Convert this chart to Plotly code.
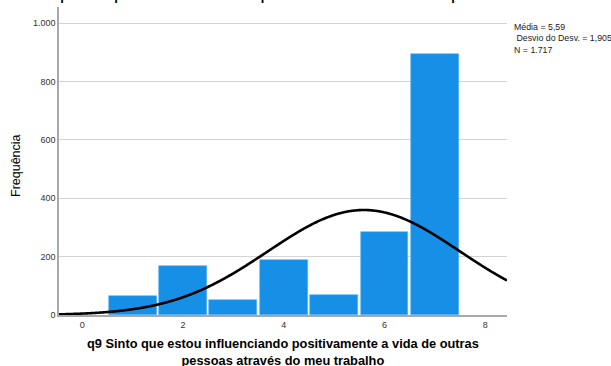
import numpy as np
import plotly.graph_objects as go

# Frequency of each answer (scale 1..7)
categories = [1, 2, 3, 4, 5, 6, 7]
frequencies = [66, 167, 50, 187, 70, 283, 894]

# Summary statistics shown in the side box
mean_val = 5.59
sd_val = 1.905
n_total = 1717

x_ticks = [0, 2, 4, 6, 8]
y_ticks = [0, 200, 400, 600, 800, 1000]
y_tick_text = ["0", "200", "400", "600", "800", "1.000"]

x_range = [-0.46, 8.43]
y_range = [0, 1055]

title_text = "q9 Sinto que estou influenciando positivamente a vida de outras pessoas através do meu trabalho"
x_title = "q9 Sinto que estou influenciando positivamente a vida de outras<br>pessoas através do meu trabalho"
y_title = "Frequência"
stats_text = "Média = 5,59<br> Desvio do Desv. = 1,905<br>N = 1.717"

FONT = "Liberation Sans, Arial, sans-serif"

fig = go.Figure()

fig.add_trace(go.Bar(
    x=categories,
    y=frequencies,
    width=0.95,
    marker=dict(color="#1690e6", line=dict(color="#5db0ef", width=0.6)),
    showlegend=False,
))

# Normal curve scaled to counts (bin width 1)
xc = np.linspace(x_range[0], x_range[1], 400)
yc = n_total * 1.0 / (sd_val * np.sqrt(2 * np.pi)) * np.exp(-0.5 * ((xc - mean_val) / sd_val) ** 2)
fig.add_trace(go.Scatter(
    x=xc, y=yc, mode="lines",
    line=dict(color="black", width=2.6, shape="spline"),
    showlegend=False,
))

fig.update_layout(
    width=611, height=366,
    margin=dict(l=59, r=104, t=7, b=51),
    paper_bgcolor="white",
    plot_bgcolor="white",
    font=dict(family=FONT, color="#333333"),
    bargap=0,
    xaxis=dict(
        range=x_range, tickvals=x_ticks, showgrid=False, zeroline=False,
        showline=True, linecolor="#a8a8a8", linewidth=1.5,
        ticks="", tickfont=dict(size=9, color="#333333"),
    ),
    yaxis=dict(
        range=y_range, tickvals=y_ticks, ticktext=y_tick_text,
        showgrid=True, gridcolor="#d4d4d4", gridwidth=1, zeroline=False,
        showline=True, linecolor="#a8a8a8", linewidth=1.5,
        ticks="", tickfont=dict(size=9, color="#333333"),
    ),
    annotations=[
        dict(text="<b>" + title_text + "</b>", xref="paper", yref="paper",
             x=0.66, y=1.005, xanchor="center", yanchor="bottom", showarrow=False,
             font=dict(size=12.8, color="black", family=FONT)),
        dict(text="<b>" + x_title + "</b>", xref="paper", yref="paper",
             x=0.5, y=-0.121, xanchor="center", yanchor="middle", showarrow=False,
             font=dict(size=12.8, color="black", family=FONT)),
        dict(text=y_title, xref="paper", yref="paper", textangle=-90,
             x=-0.096, y=0.487, xanchor="center", yanchor="middle", showarrow=False,
             font=dict(size=12.5, color="black", family=FONT)),
        dict(text=stats_text, xref="paper", yref="paper", align="left",
             x=1.012, y=(315 - 20) / 308, xanchor="left", yanchor="top", showarrow=False,
             font=dict(size=8.8, color="#222222", family=FONT)),
    ],
)

fig.write_html("out.html")
